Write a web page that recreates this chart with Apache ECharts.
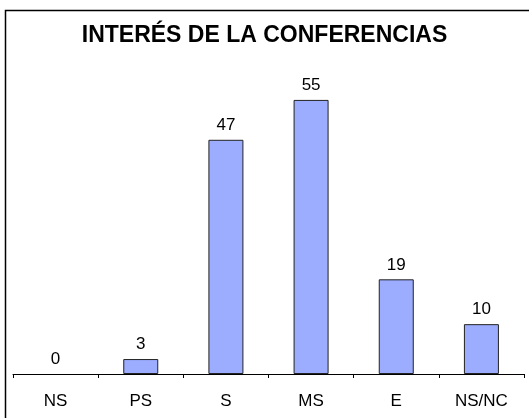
<!DOCTYPE html>
<html>
<head>
<meta charset="utf-8">
<script src="https://cdn.jsdelivr.net/npm/echarts@6/dist/echarts.min.js"></script>
<style>
html, body { margin: 0; padding: 0; background: #fff; }
#chart { width: 529px; height: 418px; }
</style>
</head>
<body>
<div id="chart"></div>
<script>
// categorias y valores
var categorias = ['NS', 'PS', 'S', 'MS', 'E', 'NS/NC'];
var valores = [0, 3, 47, 55, 19, 10];

var myChart = echarts.init(document.getElementById('chart'));
// barras con valor 0 sin borde (no se dibuja nada)
var datos = valores.map(function (v) {
	return v === 0 ? { value: v, itemStyle: { borderWidth: 0 } } : v;
});
var option = {
	animation: false,
	title: {
		text: 'INTERÉS DE LA CONFERENCIAS',
		left: 'center',
		top: 19,
		textStyle: { fontFamily: 'Liberation Sans', fontWeight: 'bold', fontSize: 23, color: '#000' }
	},
	graphic: [{
		type: 'rect',
		shape: { x: 5.5, y: 10.5, width: 600, height: 500 },
		style: { fill: null, stroke: '#000', lineWidth: 1.5 },
		z: 100
	}],
	grid: { left: 13, right: 5, top: 75, bottom: 44 },
	xAxis: {
		type: 'category',
		data: categorias,
		axisLine: { lineStyle: { color: '#000', width: 1 } },
		axisTick: { show: true, length: 4, lineStyle: { color: '#000' } },
		axisLabel: { color: '#000', fontFamily: 'Liberation Sans', fontSize: 17, margin: 19 }
	},
	yAxis: {
		type: 'value',
		min: 0,
		max: 60,
		show: false,
		splitLine: { show: false }
	},
	series: [{
		type: 'bar',
		data: datos,
		barWidth: 35,
		itemStyle: { color: '#9cadff', borderColor: '#222', borderWidth: 1 },
		label: {
			show: true,
			position: 'top',
			distance: 6,
			color: '#000',
			fontFamily: 'Liberation Sans',
			fontSize: 17
		}
	}]
};
myChart.setOption(option);
</script>
</body>
</html>
